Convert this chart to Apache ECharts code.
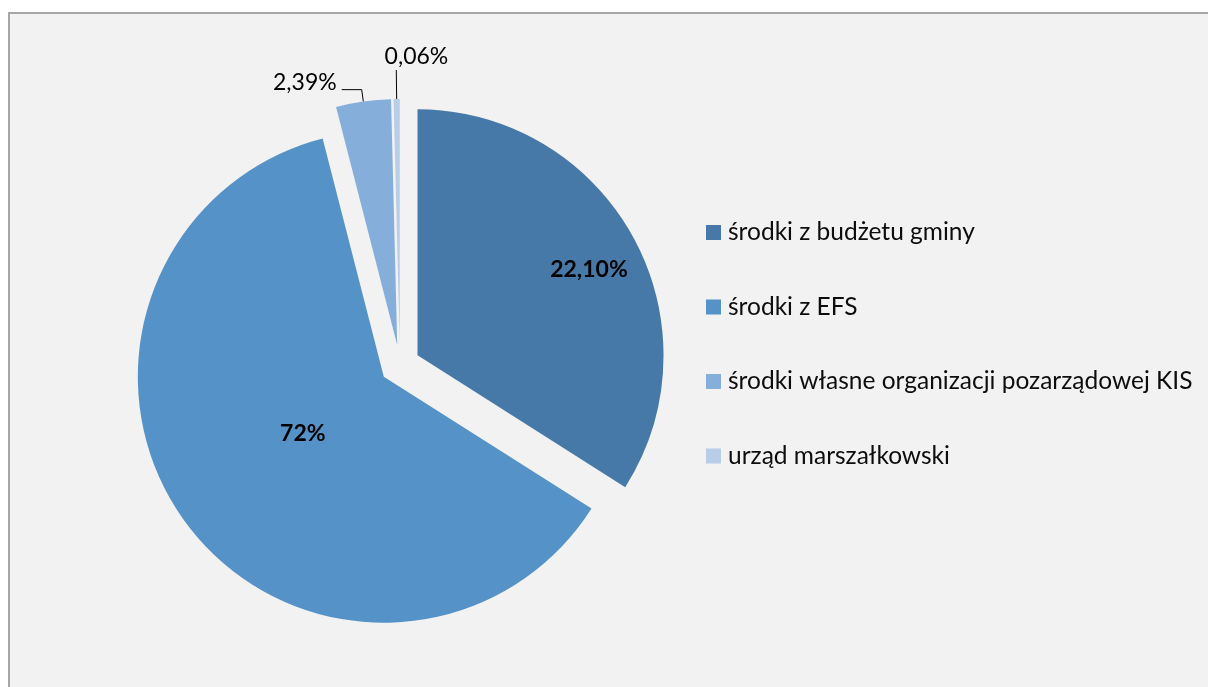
<!DOCTYPE html>
<html style="height: 100%">
<head>
    <meta charset="utf-8">
    <style>
        html, body {
            height: 100%;
            margin: 0;
            padding: 0;
            overflow: hidden;
            background: #ffffff;
        }
        .frame {
            position: absolute;
            left: 8px;
            top: 12px;
            width: 1300px;
            height: 800px;
            border: 2px solid #a6a6a6;
            background: #f2f2f2;
        }
        .container {
            position: absolute;
            left: 0;
            top: 0;
            width: 1208px;
            height: 687px;
        }
    </style>
</head>
<body>
    <div class="frame"></div>
    <div id="container" class="container"></div>

    <script src="https://cdn.jsdelivr.net/npm/echarts/dist/echarts.min.js"></script>
    <script>
        // categories
        var names = [
            'środki z budżetu gminy',
            'środki z EFS',
            'środki własne organizacji pozarządowej KIS',
            'urząd marszałkowski'
        ];
        // slice sizes as drawn (share of the circle)
        var values = [34.0, 62.0, 3.6, 0.4];
        // the label texts written on the slices
        var labelTexts = ['22,10%', '72%', '2,39%', '0,06%'];

        var colors = ['#4779a8', '#5592c8', '#85aedb', '#b7cde8'];

        var dom = document.getElementById('container');
        var myChart = echarts.init(dom);
        var fontName = 'Lato';

        var pieData = names.map(function (name, i) {
            var inside = i < 2;
            return {
                name: name,
                value: values[i],
                selected: true,
                itemStyle: { color: colors[i] },
                label: inside ? {
                    position: 'inside',
                    fontWeight: 'bold',
                    fontSize: 23
                } : {
                    position: 'outside',
                    fontWeight: 'normal',
                    fontSize: 23
                },
                labelLine: i === 2 ? { show: true, length: 12, length2: 20 }
                    : (i === 3 ? { show: true, length: 29, length2: 0 } : { show: false })
            };
        });

        // nudges for label placement (Excel labels were moved by hand)
        var labelShift = [[61, -25], [21, -17], [0, -7], [57, -13]];

        var option = {
            backgroundColor: 'transparent',
            animation: false,
            textStyle: { fontFamily: fontName },
            legend: {
                orient: 'vertical',
                left: 706,
                top: 220,
                padding: 0,
                itemWidth: 15,
                itemHeight: 15,
                itemGap: 49.5,
                icon: 'rect',
                selectedMode: false,
                data: names,
                textStyle: {
                    fontFamily: fontName,
                    fontSize: 24.5,
                    color: '#0d0d0d',
                    padding: [0, 0, 0, 2]
                }
            },
            series: [{
                type: 'pie',
                center: [400, 365],
                radius: 246,
                startAngle: 90,
                clockwise: true,
                avoidLabelOverlap: false,
                selectedMode: 'multiple',
                selectedOffset: 20,
                minAngle: 0,
                emphasis: { disabled: true },
                select: { itemStyle: {} },
                label: {
                    color: '#000000',
                    fontFamily: fontName,
                    formatter: function (p) { return labelTexts[p.dataIndex]; }
                },
                labelLine: {
                    lineStyle: { color: '#000000', width: 1 }
                },
                labelLayout: function (p) {
                    var s = labelShift[p.dataIndex];
                    return { dx: s[0], dy: s[1] };
                },
                data: pieData
            }]
        };
        myChart.setOption(option);
    </script>
</body>
</html>
